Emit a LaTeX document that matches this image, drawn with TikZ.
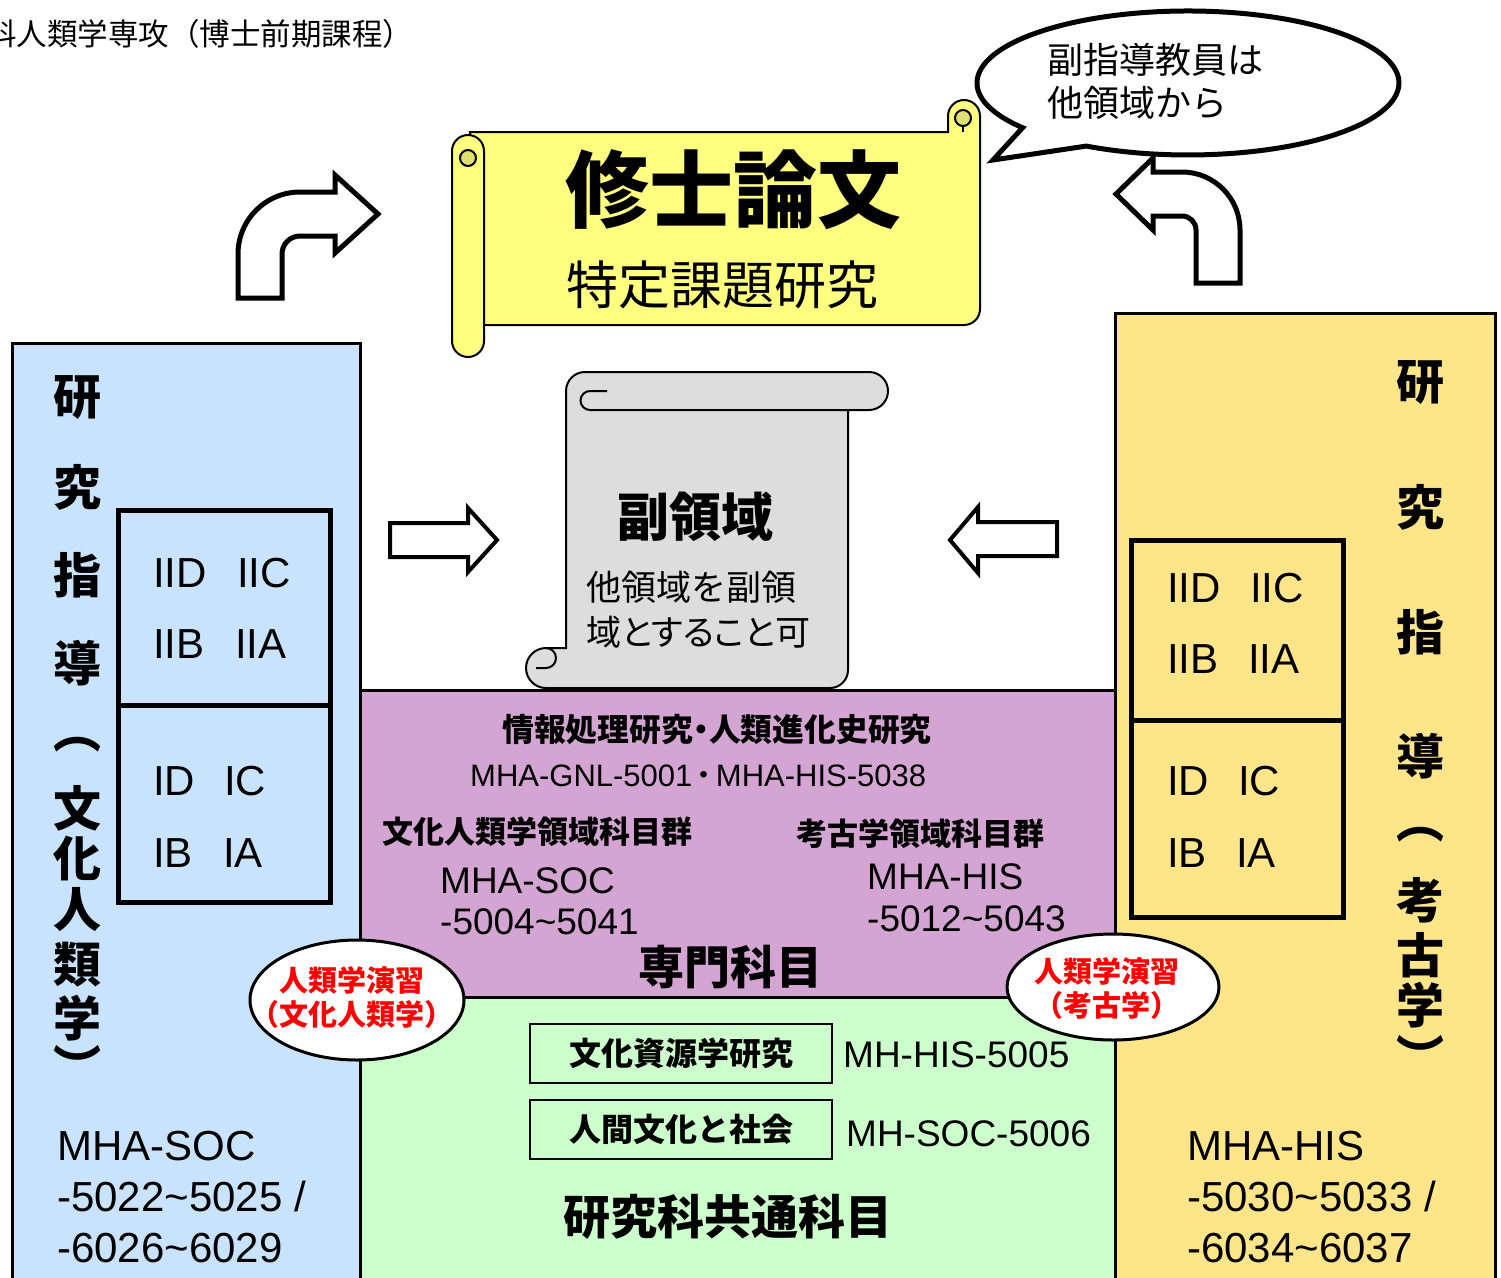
\documentclass[tikz,border=0pt]{standalone}
\usepackage{fontspec}
\setmainfont{Liberation Sans}
\newfontfamily\jp{Noto Sans CJK JP}
\newfontfamily\jpp[RawFeature=+palt]{Noto Sans CJK JP}
\usetikzlibrary{shapes.geometric}

\definecolor{panelblue}{RGB}{201,227,253}
\definecolor{panelyellow}{RGB}{255,229,138}
\definecolor{panelpurple}{RGB}{212,165,211}
\definecolor{panelgreen}{RGB}{204,255,204}
\definecolor{scrollyellow}{RGB}{255,255,128}
\definecolor{curlyellow}{RGB}{224,224,112}
\definecolor{scrollgray}{RGB}{221,221,221}

\newcommand{\fsz}[1]{\fontsize{#1}{#1}\selectfont}

\tikzset{
  panel/.style={draw=black,line width=3},
  gradebox/.style={draw=black,line width=5},
  hollow/.style={draw=black,line width=4,fill=white,line join=miter},
  scrollline/.style={draw=black,line width=2},
  curl/.style={draw=black,line width=2,fill=curlyellow},
  oval/.style={ellipse,draw=black,line width=3,fill=white,inner sep=0},
  codetxt/.style={font=\fsz{42},anchor=base west,inner sep=0},
  vchar/.style={font={\jp\bfseries\fsz{48}},inner sep=0},
  headtxt/.style={font={\jp\bfseries\fsz{31}},inner sep=0},
  course/.style={draw=black,line width=2,minimum width=302pt,minimum height=59pt,inner sep=0,font={\jp\bfseries\fsz{32}}},
  redtxt/.style={text=red,font={\jp\bfseries\fontsize{29}{34}\selectfont},align=center,inner sep=0}
}

\begin{document}
\begin{tikzpicture}[x=1pt,y=-1pt]
\useasboundingbox (0,0) rectangle (1501,1277);

\node[font={\jp\fsz{30.5}},anchor=west,inner sep=0] (title) at (-14,34) {科人類学専攻（博士前期課程）};

\draw[panel,fill=panelblue] (12,343) rectangle (360,1290);
\draw[panel,fill=panelyellow] (1115,313) rectangle (1495,1290);
\draw[panel,fill=panelpurple] (360,690) rectangle (1115,997);
\draw[panel,fill=panelgreen] (360,997) rectangle (1115,1290);

\draw[gradebox] (118,510) rectangle (330,902);
\draw[gradebox] (118,705) -- (330,705);
\draw[gradebox] (1131,540) rectangle (1343,917);
\draw[gradebox] (1131,720) -- (1343,720);

\foreach \c/\y [count=\i] in {研/398,究/487,指/575,導/663,︵/745,文/808,化/858,人/910,類/965,学/1018,︶/1065}
  \node[vchar] (lv\i) at (77,\y) {\c};
\foreach \c/\y [count=\i] in {研/383,究/507,指/632,導/756,︵/835,考/900,古/955,学/1005,︶/1055}
  \node[vchar] (rv\i) at (1420,\y) {\c};

\foreach \t/\x/\y [count=\i] in {IID/153/587,IIC/237/587,IIB/153/658,IIA/235/658,
    ID/153/795,IC/224/795,IB/153/867,IA/223/867,
    IID/1167/602,IIC/1250/602,IIB/1167/673,IIA/1248/673,
    ID/1167/795,IC/1238/795,IB/1167/867,IA/1236/867}
  \node[codetxt] (g\i) at (\x,\y) {\t};

\node[codetxt] (lc1) at (57,1160) {MHA-SOC};
\node[codetxt] (lc2) at (57,1211) {-5022\textasciitilde5025 /};
\node[codetxt] (lc3) at (57,1262) {-6026\textasciitilde6029};
\node[codetxt] (rc1) at (1187,1160) {MHA-HIS};
\node[codetxt] (rc2) at (1187,1211) {-5030\textasciitilde5033 /};
\node[codetxt] (rc3) at (1187,1262) {-6034\textasciitilde6037};

\node[headtxt,font={\jpp\bfseries\fsz{31.8}}] (info) at (717,730) {情報処理研究・人類進化史研究};
\node[codetxt,font=\fsz{31}] (infocode) at (470,786) {MHA-GNL-5001\hspace{4pt}{\jpp ・}\hspace{4pt}MHA-HIS-5038};
\node[headtxt] (socgrp) at (537,832) {文化人類学領域科目群};
\node[headtxt] (hisgrp) at (920,834) {考古学領域科目群};
\node[codetxt,font=\fsz{37}] (soc1) at (440,893) {MHA-SOC};
\node[codetxt,font=\fsz{37}] (soc2) at (440,934) {-5004\textasciitilde5041};
\node[codetxt,font=\fsz{37}] (his1) at (867,889) {MHA-HIS};
\node[codetxt,font=\fsz{37}] (his2) at (867,931) {-5012\textasciitilde5043};
\node[font={\jp\bfseries\fsz{46}},inner sep=0] (senmon) at (730,967) {専門科目};

\node[course] (shigen) at (681,1053.5) {文化資源学研究};
\node[course] (ningen) at (681,1129.5) {人間文化と社会};
\node[codetxt,font=\fsz{37}] (shigencode) at (843,1067) {MH-HIS-5005};
\node[codetxt,font=\fsz{37}] (ningencode) at (846,1146) {MH-SOC-5006};
\node[font={\jp\bfseries\fsz{47}},inner sep=0] (kyotsu) at (728,1217) {研究科共通科目};

\node[oval,minimum width=214pt,minimum height=120pt] (lex) at (357,1000) {};
\node[redtxt] (lextxt) at (352,997) {人類学演習\\（文化人類学）};
\node[oval,minimum width=212pt,minimum height=106pt] (rex) at (1113,987) {};
\node[redtxt] (rextxt) at (1107,988) {人類学演習\\（考古学）};

\draw[scrollline,fill=scrollyellow] (470,132) -- (948,132) -- (948,116)
  arc[start angle=180,end angle=360,radius=16] -- (980,309)
  arc[start angle=0,end angle=90,radius=16] -- (470,325) -- cycle;
\draw[curl] (963,118) circle[radius=8];
\draw[scrollline] (963,126) -- (963,132);
\draw[scrollline,fill=scrollyellow] (452,151) arc[start angle=180,end angle=360,radius=16]
  -- (484,341) arc[start angle=0,end angle=180,radius=16] -- cycle;
\draw[curl] (468,158) circle[radius=8];
\node[font={\jp\bfseries\fsz{84}},inner sep=0] (thesis) at (733,190) {修士論文};
\node[font={\jp\fsz{52}},inner sep=0] (tokutei) at (722,285) {特定課題研究};

\draw[scrollline,fill=scrollgray] (566,391) arc[start angle=180,end angle=270,radius=19]
  -- (869,372) arc[start angle=270,end angle=450,radius=19] -- (848,410) -- (848,670)
  arc[start angle=0,end angle=90,radius=18] -- (546,688)
  arc[start angle=90,end angle=270,radius=20] -- (566,648) -- cycle;
\draw[scrollline] (607,391) -- (590,391) arc[start angle=270,end angle=90,radius=9.5] -- (848,410);
\draw[scrollline] (546,648) arc[start angle=270,end angle=450,radius=10] -- (536,668);
\node[font={\jp\bfseries\fsz{52}},inner sep=0] (fuku) at (695,517) {副領域};
\node[font={\jp\fsz{35}},anchor=west,inner sep=0] (fuku1) at (586,587) {他領域を副領};
\node[font={\jpp\fsz{35}},anchor=west,inner sep=0] (fuku2) at (586,632) {域とすること可};

\draw[hollow] (390,523) -- (468,523) -- (468,508) -- (497,540) -- (468,572) -- (468,557) -- (390,557) -- cycle;
\draw[hollow] (1057,522) -- (978,522) -- (978,507) -- (950,540) -- (978,573) -- (978,556) -- (1057,556) -- cycle;
\draw[hollow,line width=5] (238,298) -- (238,254) arc[start angle=180,end angle=270,radius=62]
  -- (335,192) -- (335,175) -- (378,214) -- (335,253) -- (335,236) -- (300,236)
  arc[start angle=270,end angle=180,radius=18] -- (282,298) -- cycle;
\draw[hollow,line width=5] (1240,283) -- (1240,230) arc[start angle=0,end angle=-90,radius=58]
  -- (1153,172) -- (1153,158) -- (1116,194) -- (1153,230) -- (1153,216) -- (1182,216)
  arc[start angle=-90,end angle=0,radius=14] -- (1196,283) -- cycle;

\draw[hollow,line width=5] (1022.6,127.7) arc[start angle=141.6,end angle=478.8,x radius=211,y radius=72]
  -- (993,160) -- cycle;
\node[font={\jp\fsz{36}},anchor=west,inner sep=0] (sub1) at (1047,60) {副指導教員は};
\node[font={\jp\fsz{36}},anchor=west,inner sep=0] (sub2) at (1047,103) {他領域から};
\end{tikzpicture}
\end{document}
